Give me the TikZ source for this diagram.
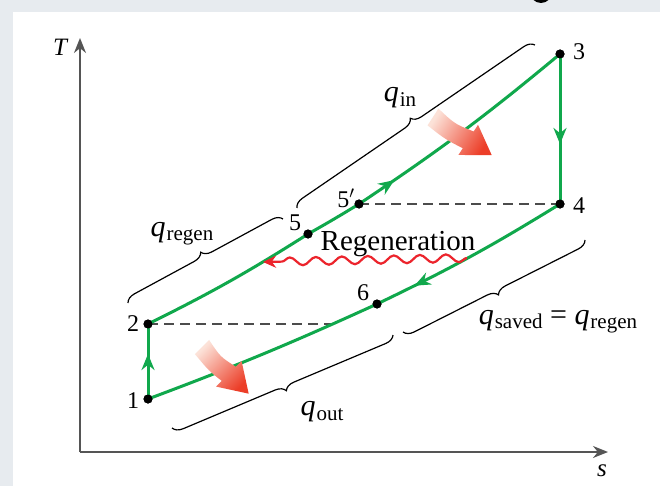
\documentclass[tikz,border=0pt]{standalone}
\usepackage{fontspec}
\setmainfont{Liberation Serif}
\usetikzlibrary{arrows.meta, calc, decorations.pathreplacing, decorations.pathmorphing, decorations.markings}
\definecolor{cyclegreen}{RGB}{16,168,76}
\definecolor{wavered}{RGB}{236,36,44}
\definecolor{heatpale}{RGB}{252,226,216}
\definecolor{heatstrong}{RGB}{236,62,40}
\definecolor{panelgray}{RGB}{231,235,239}
\definecolor{axisgray}{RGB}{85,85,85}
\newcommand{\qheat}[1]{\textit{q}\kern0.03em\raisebox{-0.3ex}{\fontsize{21}{23}\selectfont #1}}
\tikzset{
  state/.style={
    circle, fill=black, inner sep=0pt, minimum size=9pt
  },
  statelabel/.style={
    inner sep=0pt, font=\fontsize{24}{26}\selectfont
  },
  heatlabel/.style={
    inner sep=0pt, font=\fontsize{30}{32}\selectfont
  },
  axis/.style={
    draw=axisgray, line width=2pt, -{Stealth[length=15pt,width=12pt]}
  },
  process/.style={cyclegreen, line width=3pt},
  midarrow/.style={
    postaction={decorate},
    decoration={markings, mark=at position #1 with {\arrow{Stealth[length=16pt,width=13pt]}}}
  },
  isobar/.style={draw=black!70, line width=1.3pt, dash pattern=on 10pt off 6pt},
  heatbrace/.style={
    draw=black, line width=1.2pt, decorate, decoration={brace, amplitude=10pt}
  },
  wavy/.style={
    draw=wavered, line width=2.2pt, -{Stealth[length=13pt,width=12pt]},
    decorate, decoration={snake, amplitude=4pt, segment length=26pt, post length=8pt}
  },
}

\begin{document}
\begin{tikzpicture}[x=1pt, y=-1pt]
  \useasboundingbox (0,0) rectangle (660,486);
  \fill[panelgray] (0,0) rectangle (660,486);
  \fill[white] (13,12) rectangle (660,486);
  \begin{scope}
    \clip (0,0) rectangle (660,12);
    \fill (541,-8) circle (11pt);
  \end{scope}

  \coordinate (origin) at (80,452);
  \coordinate (tmax)   at (80,38);
  \coordinate (smax)   at (608,452);
  \draw[axis] (origin) -- (tmax);
  \draw[axis] (origin) -- (smax);
  \node[statelabel, font=\fontsize{25}{27}\selectfont\itshape] (tlab) at (60,47) {T};
  \node[statelabel, font=\fontsize{25}{27}\selectfont\itshape] (slab) at (602,471) {s};

  \node[state] (p1)  at (148,399) {};
  \node[state] (p2)  at (148,324) {};
  \node[state] (p3)  at (560,54)  {};
  \node[state] (p4)  at (560,204) {};
  \node[state] (p5)  at (308,234) {};
  \node[state] (p5p) at (359,204) {};
  \node[state] (p6)  at (377,304) {};
  \coordinate (c2) at (331,324);

  \draw[isobar] (p2.center) -- (c2);
  \draw[isobar] (p5p.center) -- (p4.center);

  \draw[process, midarrow=0.6] (p1.center) -- (p2.center);
  \draw[process] (p2.center) to[bend right=3] (p5.center) to[bend right=1] (p5p.center);
  \draw[process, midarrow=0.17] (p5p.center) to[bend right=3] (p3.center);
  \draw[process, midarrow=0.6] (p3.center) -- (p4.center);
  \draw[process, midarrow=0.8] (p4.center) to[bend left=3] (p6.center);
  \draw[process] (p6.center) to[bend left=2] (p1.center);

  \foreach \p in {p1,p2,p3,p4,p5,p5p,p6}
    \node[state] at (\p) {};

  \node[statelabel] (l1)  at (133,401) {1};
  \node[statelabel] (l2)  at (133,324) {2};
  \node[statelabel] (l3)  at (579,52)  {3};
  \node[statelabel] (l4)  at (579,206) {4};
  \node[statelabel] (l5)  at (295,223) {5};
  \node[statelabel] (l5p) at (346,198) {5$'$};
  \node[statelabel] (l6)  at (363,293) {6};

  \begin{scope}[shift={(433,117)}, rotate=-33]
    \shade[top color=heatpale, bottom color=heatstrong, shading angle=57]
      (0,10) .. controls (22,12) .. (42,10) -- (42,18) -- (70,0) -- (42,-18)
      -- (42,-10) .. controls (22,-6) .. (0,-10) -- cycle;
  \end{scope}
  \begin{scope}[shift={(202,347)}, rotate=-45]
    \shade[top color=heatpale, bottom color=heatstrong, shading angle=45]
      (0,10) .. controls (22,12) .. (38,10) -- (38,18) -- (66,0) -- (38,-18)
      -- (38,-10) .. controls (20,-6) .. (0,-10) -- cycle;
  \end{scope}

  \coordinate (w1) at (467,258);
  \coordinate (w2) at (263,262);
  \draw[wavy] (w1) -- (w2);
  \node[heatlabel, font=\fontsize{29}{31}\selectfont] (regen) at (398,244) {Regeneration};

  \coordinate (bin1) at (297,208);  \coordinate (bin2) at (535,45);
  \coordinate (brg1) at (128,303);  \coordinate (brg2) at (283,219);
  \coordinate (bout1) at (393,335); \coordinate (bout2) at (172,428);
  \coordinate (bsv1) at (585,240);  \coordinate (bsv2) at (403,332);
  \draw[heatbrace] (bin1) -- (bin2);
  \draw[heatbrace] (brg1) -- (brg2);
  \draw[heatbrace] (bout1) -- (bout2);
  \draw[heatbrace] (bsv1) -- (bsv2);

  \node[heatlabel] (qin)    at (400,98)  {\qheat{in}};
  \node[heatlabel] (qregen) at (182,234) {\qheat{regen}};
  \node[heatlabel] (qout)   at (322,412) {\qheat{out}};
  \node[heatlabel] (qsaved) at (558,322) {\qheat{saved} = \qheat{regen}};
\end{tikzpicture}
\end{document}
